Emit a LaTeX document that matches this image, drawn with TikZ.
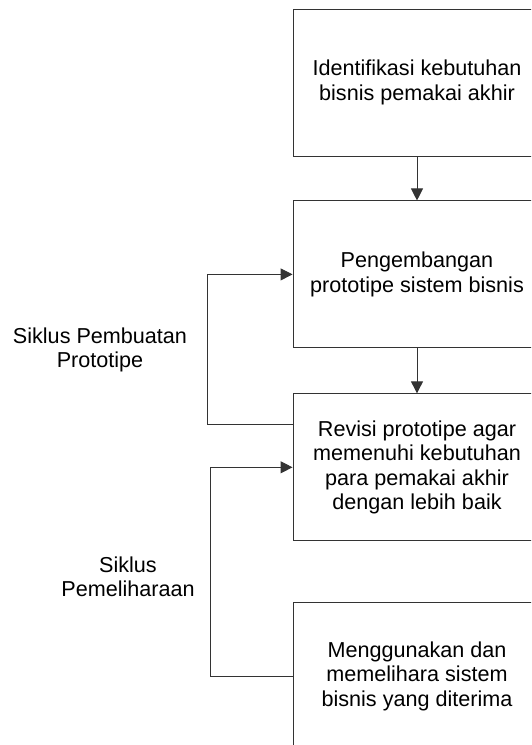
\documentclass[tikz,border=0pt]{standalone}
\usepackage{fontspec}
\setmainfont{Liberation Sans}
\usepackage{tikz}
\usetikzlibrary{arrows.meta, positioning}

\tikzset{
  proses/.style={draw=black!80, line width=0.9pt, minimum width=248pt, minimum height=147pt,
    align=center, inner sep=0pt, font=\fontsize{21.6}{24.5}\selectfont},
  label siklus/.style={align=center, font=\fontsize{21.6}{24.5}\selectfont},
  panah/.style={draw=black!80, line width=0.9pt, -{Triangle[length=12pt,width=12pt]}}
}

\begin{document}
\begin{tikzpicture}[x=1pt, y=-1pt]
    \path [use as bounding box, clip] (0,0) rectangle (531,745);
    \node [proses] (ident) at (417,82.5) {Identifikasi kebutuhan\\bisnis pemakai akhir};
    \node [below=44pt of ident] (kembang) [proses] {Pengembangan\\prototipe sistem bisnis};
    \draw [panah] (ident) -- (kembang);
    \node [below=45pt of kembang] (revisi) [proses] {Revisi prototipe agar\\memenuhi kebutuhan\\para pemakai akhir\\dengan lebih baik};
    \draw [panah] (kembang) -- (revisi);
    \node [below=61pt of revisi] (pakai) [proses] {Menggunakan dan\\memelihara sistem\\bisnis yang diterima};
    % siklus pembuatan prototipe
    \draw [panah] ([yshift=43pt]revisi.west) -- ++(-85,0) |- (kembang.west);
    \node [label siklus] (buat) at (100,350) {Siklus Pembuatan\\Prototipe};
    % siklus pemeliharaan
    \draw [panah] (pakai.west) -- ++(-82,0) |- (revisi.west);
    \node [label siklus] (pelihara) at (128,577) {Siklus\\Pemeliharaan};
\end{tikzpicture}
\end{document}
